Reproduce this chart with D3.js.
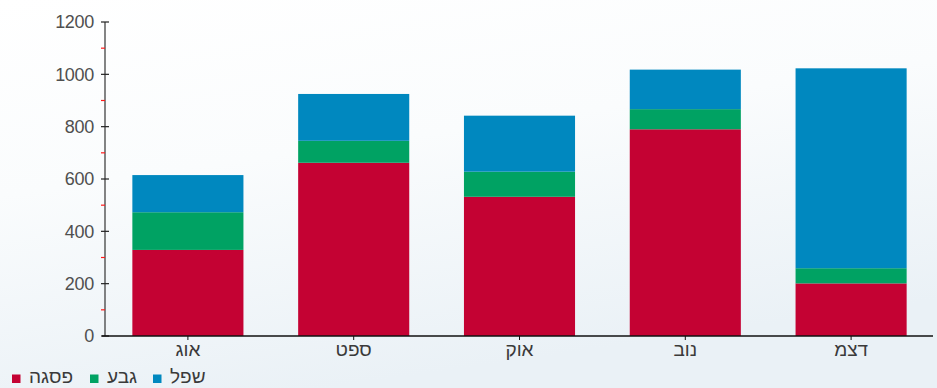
<!DOCTYPE html>
<html><head><meta charset="utf-8">
<script src="https://cdn.jsdelivr.net/npm/d3@7"></script>
<style>html,body{margin:0;padding:0;overflow:hidden;}svg{display:block;font-family:"Liberation Sans",Arial,sans-serif;}</style>
</head><body>
<svg id="c" width="937" height="388"></svg>
<script>
const categories = ["אוג","ספט","אוק","נוב","דצמ"];
const seriesNames = ["פסגה","גבע","שפל"];
const peak = [329, 662, 532, 790, 201];
const mid = [144, 84, 96, 77, 58];
const low = [142, 179, 214, 151, 764];
const yTicks = [0,200,400,600,800,1000,1200];
const yMinorTicks = [100,300,500,700,900,1100];
const colors = ["#c40233","#00a263","#0088bf"];

const svg = d3.select("#c");
const W = 937, H = 388;
const defs = svg.append("defs");
const g1 = defs.append("linearGradient").attr("id","bg").attr("x1","0").attr("y1","0").attr("x2","0.35").attr("y2","1");
g1.append("stop").attr("offset","0").attr("stop-color","#ffffff");
g1.append("stop").attr("offset","0.45").attr("stop-color","#fafcfd");
g1.append("stop").attr("offset","1").attr("stop-color","#eaf1f6");
svg.append("rect").attr("width",W).attr("height",H).attr("fill","url(#bg)");

const x = d3.scaleBand().domain(categories).range([105,934]).paddingInner(0).paddingOuter(0);
const y = d3.scaleLinear().domain([0,1200]).range([336,22]);
const barW = x.bandwidth()*0.67;

const data = categories.map((c,i)=>({cat:c,[seriesNames[0]]:peak[i],[seriesNames[1]]:mid[i],[seriesNames[2]]:low[i]}));
const stacked = d3.stack().keys(seriesNames)(data);

svg.append("g").selectAll("g").data(stacked).join("g")
  .attr("fill",(d,i)=>colors[i])
  .selectAll("rect").data(d=>d).join("rect")
  .attr("x",d=>x(d.data.cat)+(x.bandwidth()-barW)/2)
  .attr("width",barW)
  .attr("y",d=>y(d[1]))
  .attr("height",d=>y(d[0])-y(d[1]));

// y axis
const ya = svg.append("g");
ya.append("line").attr("x1",105).attr("x2",105).attr("y1",y(1200)).attr("y2",y(0)).attr("stroke","#333").attr("stroke-width",1.2);
ya.selectAll("line.maj").data(yTicks).join("line").attr("class","maj")
  .attr("x1",101).attr("x2",109).attr("y1",d=>y(d)).attr("y2",d=>y(d)).attr("stroke","#222").attr("stroke-width",1.2);
ya.selectAll("line.min").data(yMinorTicks).join("line").attr("class","min")
  .attr("x1",101).attr("x2",105).attr("y1",d=>y(d)).attr("y2",d=>y(d)).attr("stroke","#ff1a1a").attr("stroke-width",1.2);
ya.selectAll("text").data(yTicks).join("text")
  .attr("x",94).attr("y",d=>y(d)).attr("dy","0.36em").attr("text-anchor","end")
  .attr("font-size",18).attr("fill","#4f4f4f").attr("letter-spacing","-0.3").text(d=>d);

// x axis
const xa = svg.append("g");
xa.append("line").attr("x1",102).attr("x2",933).attr("y1",336).attr("y2",336).attr("stroke","#111").attr("stroke-width",1.5);
xa.selectAll("line.t").data(categories).join("line").attr("class","t")
  .attr("x1",d=>x(d)+x.bandwidth()/2).attr("x2",d=>x(d)+x.bandwidth()/2).attr("y1",336).attr("y2",340).attr("stroke","#111");
xa.selectAll("text").data(categories).join("text")
  .attr("x",d=>x(d)+x.bandwidth()/2).attr("y",356).attr("text-anchor","middle")
  .attr("font-size",19).attr("fill","#3a3a3a").text(d=>d);

// legend
const legX = [12, 90, 153];
const lg = svg.append("g");
seriesNames.forEach((n,i)=>{
  lg.append("rect").attr("x",legX[i]).attr("y",374.5).attr("width",8.5).attr("height",8.5).attr("fill",colors[i]);
  lg.append("text").attr("x",legX[i]+17).attr("y",382.5).attr("font-size",19).attr("fill","#3a3a3a").text(n);
});
</script>
</body></html>
